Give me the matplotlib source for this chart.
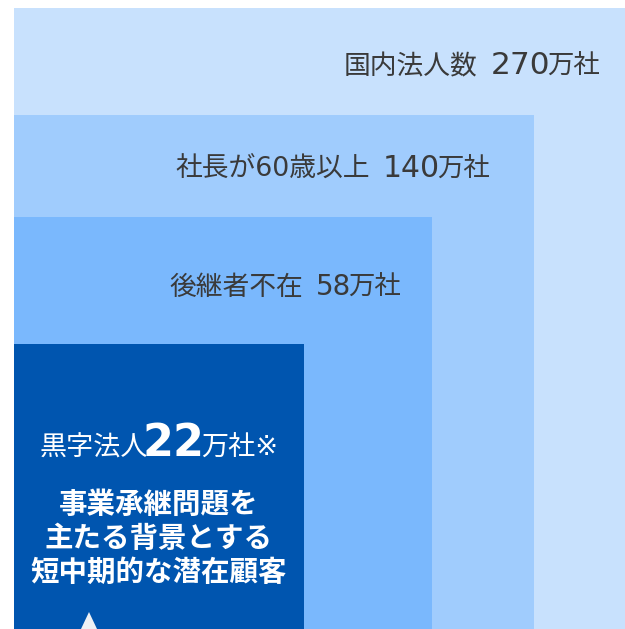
import matplotlib
matplotlib.use("Agg")
import matplotlib.pyplot as plt
from matplotlib.patches import Rectangle, Polygon

plt.rcParams['font.family'] = ['DejaVu Sans', 'Noto Sans CJK JP']

# data
labels = ["国内法人数", "社長が60歳以上", "後継者不在", "黒字法人"]
counts = [270, 140, 58, 22]
unit = "万社"
note_mark = "※"
note_lines = ["事業承継問題を", "主たる背景とする", "短中期的な潜在顧客"]

# layout (pixels, figure is 625x629)
W, H = 625, 629
left = 14
box_right = [625, 534, 432, 304]
box_top = [8, 115, 217, 344]
box_colors = ["#C8E1FD", "#A0CCFD", "#7AB8FD", "#0055AF"]
label_right = [600, 490, 401]
label_base = [74, 177, 295]
num_size = [22.5, 21.5, 20]
dark = "#3A3A3A"

fig = plt.figure(figsize=(W / 100, H / 100), dpi=100)
ax = fig.add_axes([0, 0, 1, 1])
ax.set_xlim(0, W)
ax.set_ylim(H, 0)
ax.axis("off")
renderer = fig.canvas.get_renderer()


def draw_run(x, y, parts, ha="right"):
    # parts: (text, size, weight, color, gap_before)
    items = []
    for text, size, weight, color, gap in parts:
        t = ax.text(0, y, text, fontsize=size, fontweight=weight, color=color,
                    va="baseline", ha="left")
        items.append((t, gap, t.get_window_extent(renderer).width))
    total = sum(g + w for _, g, w in items)
    pos = x - total if ha == "right" else x - total / 2
    for t, g, w in items:
        pos += g
        t.set_x(pos)
        pos += w


for r, tp, c in zip(box_right, box_top, box_colors):
    ax.add_patch(Rectangle((left, tp), r - left, H - tp, color=c, lw=0))

for i in range(3):
    draw_run(label_right[i], label_base[i], [
        (labels[i], 19.3, "normal", dark, 0),
        (str(counts[i]), num_size[i], "normal", dark, 13),
        (unit, 19, "normal", dark, -3),
    ])

cx = (left + box_right[3]) / 2
draw_run(cx, 456, [
    (labels[3], 19.5, "normal", "white", 0),
    (str(counts[3]), 32, "bold", "white", -6),
    (unit + note_mark, 19.5, "normal", "white", -3),
], ha="center")

for j, line in enumerate(note_lines):
    ax.text(cx, 505 + 34 * j, line, fontsize=20.5, fontweight="bold",
            color="white", ha="center", va="center",
            family=['Noto Sans CJK JP', 'DejaVu Sans'])

ax.add_patch(Polygon([(81, 629), (89, 612), (97, 629)], closed=True,
                     color="#EEF1F5", lw=0))

fig.savefig("out.png", dpi=100)
